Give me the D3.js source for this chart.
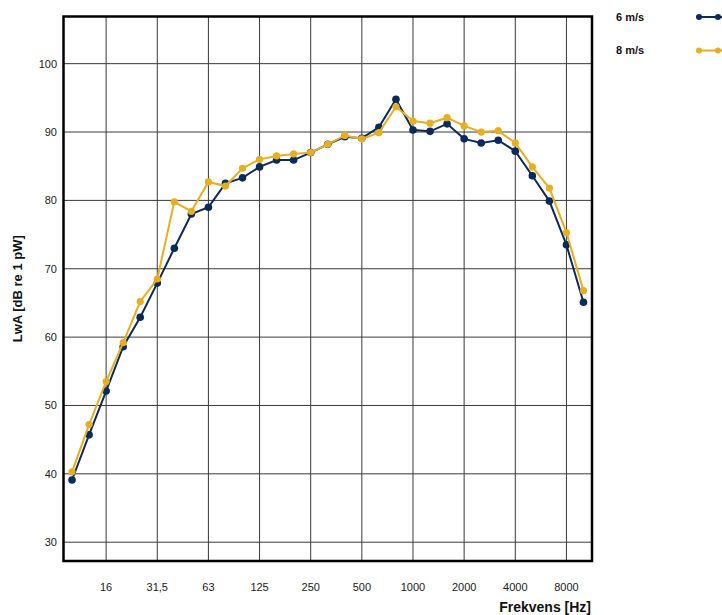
<!DOCTYPE html>
<html lang="en">
	<head>
		<meta charset="utf-8">
		<title>LwA spectrum</title>
		<style type="text/css">
			body {
				margin: 0;
				background-color: white;
				font-family: "Liberation Sans", Arial, Helvetica, sans-serif;
			}
			.grid line {
				stroke: #3a3a3a;
				stroke-width: 1;
			}
			.ticklabel {
				font-size: 11px;
				fill: #222;
			}
			.axislabel {
				font-size: 14px;
				font-weight: bold;
				fill: #111;
			}
			.legendtext {
				font-size: 11px;
				font-weight: bold;
				fill: #111;
			}
		</style>
	</head>
	<body>
	<script src="https://cdnjs.cloudflare.com/ajax/libs/d3/7.8.5/d3.min.js"></script>
	<script type="text/javascript">

		// third-octave bands, 10 Hz .. 10 kHz
		var bands = ["10", "12,5", "16", "20", "25", "31,5", "40", "50", "63", "80",
			"100", "125", "160", "200", "250", "315", "400", "500", "630", "800",
			"1000", "1250", "1600", "2000", "2500", "3150", "4000", "5000", "6300", "8000", "10000"];

		var series6 = [39.1, 45.7, 52.1, 58.6, 62.9, 67.9, 73.0, 78.0, 79.0, 82.5,
			83.3, 84.9, 85.9, 85.9, 87.0, 88.2, 89.3, 89.1, 90.7, 94.8,
			90.3, 90.1, 91.2, 89.0, 88.4, 88.8, 87.2, 83.6, 79.9, 73.5, 65.1];

		var series8 = [40.3, 47.2, 53.5, 59.2, 65.2, 68.5, 79.8, 78.4, 82.7, 82.1,
			84.7, 86.0, 86.5, 86.8, 87.0, 88.2, 89.5, 89.0, 89.9, 93.7,
			91.6, 91.3, 92.1, 90.9, 90.0, 90.2, 88.4, 84.9, 81.8, 75.3, 66.8];

		var yTicks = [30, 40, 50, 60, 70, 80, 90, 100];
		var xTickLabels = ["16", "31,5", "63", "125", "250", "500", "1000", "2000", "4000", "8000"];

		var seriesNames = ["6 m/s", "8 m/s"];
		var colors = ["#0b2a5a", "#e6ae22"];

		var fullwidth = 722;
		var fullheight = 615;
		var plot = { left: 63.5, right: 592, top: 16.5, bottom: 561 };

		var svg = d3.select("body")
				.append("svg")
				.attr("width", fullwidth)
				.attr("height", fullheight);

		var xScale = d3.scaleLinear()
				.domain([-0.5, bands.length - 0.5])
				.range([plot.left, plot.right]);

		var yScale = d3.scaleLinear()
				.domain([27.25, 106.9])
				.range([plot.bottom, plot.top]);

		// gridlines
		var grid = svg.append("g").attr("class", "grid");

		grid.selectAll("line.h")
			.data(yTicks)
			.enter()
			.append("line")
			.attr("class", "h")
			.attr("x1", plot.left)
			.attr("x2", plot.right)
			.attr("y1", function(d) { return yScale(d); })
			.attr("y2", function(d) { return yScale(d); });

		grid.selectAll("line.v")
			.data(xTickLabels)
			.enter()
			.append("line")
			.attr("class", "v")
			.attr("x1", function(d) { return xScale(bands.indexOf(d)); })
			.attr("x2", function(d) { return xScale(bands.indexOf(d)); })
			.attr("y1", plot.top)
			.attr("y2", plot.bottom);

		// tick labels
		svg.selectAll("text.ylab")
			.data(yTicks)
			.enter()
			.append("text")
			.attr("class", "ticklabel ylab")
			.attr("x", 57)
			.attr("y", function(d) { return yScale(d); })
			.attr("dy", "0.35em")
			.style("text-anchor", "end")
			.text(function(d) { return d; });

		svg.selectAll("text.xlab")
			.data(xTickLabels)
			.enter()
			.append("text")
			.attr("class", "ticklabel xlab")
			.attr("x", function(d) { return xScale(bands.indexOf(d)); })
			.attr("y", 591)
			.style("text-anchor", "middle")
			.text(function(d) { return d; });

		// frame
		svg.append("rect")
			.attr("x", plot.left)
			.attr("y", plot.top)
			.attr("width", plot.right - plot.left)
			.attr("height", plot.bottom - plot.top)
			.style("fill", "none")
			.style("stroke", "#000")
			.style("stroke-width", 2.5);

		// axis titles
		svg.append("text")
			.attr("class", "axislabel")
			.attr("x", 591)
			.attr("y", 612)
			.style("text-anchor", "end")
			.text("Frekvens [Hz]");

		svg.append("text")
			.attr("class", "axislabel")
			.attr("transform", "translate(22," + ((plot.top + plot.bottom) / 2) + ") rotate(-90)")
			.style("text-anchor", "middle")
			.style("font-size", "13px")
			.text("LwA [dB re 1 pW]");

		// series
		var line = d3.line()
			.x(function(d, i) { return xScale(i); })
			.y(function(d) { return yScale(d); });

		[series6, series8].forEach(function(s, k) {
			var g = svg.append("g");
			g.append("path")
				.datum(s)
				.attr("d", line)
				.style("fill", "none")
				.style("stroke", colors[k])
				.style("stroke-width", 2);
			g.selectAll("circle")
				.data(s)
				.enter()
				.append("circle")
				.attr("cx", function(d, i) { return xScale(i); })
				.attr("cy", function(d) { return yScale(d); })
				.attr("r", k === 0 ? 3.8 : 3.6)
				.style("fill", colors[k]);
		});

		// legend
		var legend = svg.selectAll("g.legend")
			.data(seriesNames)
			.enter()
			.append("g")
			.attr("class", "legend")
			.attr("transform", function(d, i) { return "translate(0," + (17 + i * 33.5) + ")"; });

		legend.append("text")
			.attr("class", "legendtext")
			.attr("x", 616)
			.attr("dy", "0.35em")
			.text(function(d) { return d; });

		legend.append("line")
			.attr("x1", 699)
			.attr("x2", 724)
			.style("stroke", function(d, i) { return colors[i]; })
			.style("stroke-width", 2);

		legend.selectAll("circle")
			.data(function(d, i) { return [i, i]; })
			.enter()
			.append("circle")
			.attr("cx", function(d, j) { return j === 0 ? 699 : 718; })
			.attr("r", 3)
			.style("fill", function(d) { return colors[d]; });

	</script>
	</body>
</html>
